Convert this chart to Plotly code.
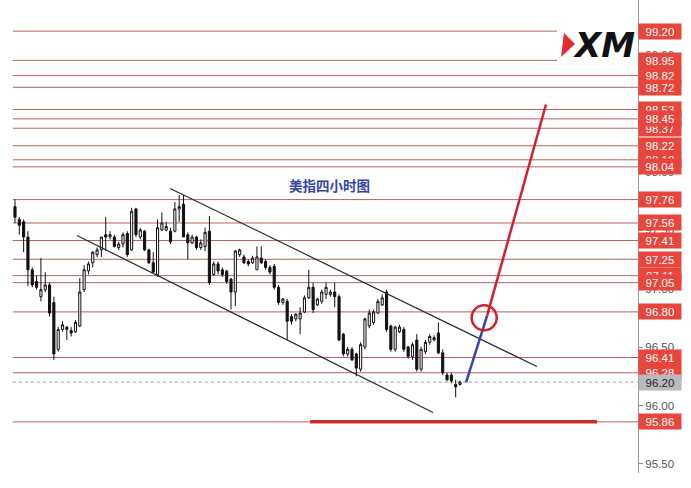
import plotly.graph_objects as go

# ---------------- data ----------------
opens = [97.70,97.59,97.57,97.44,97.16,97.06,96.93,96.99,97.03,96.88,
96.48,96.65,96.67,96.64,96.63,96.68,96.99,97.15,97.22,97.29,
97.33,97.46,97.44,97.44,97.35,97.38,97.47,97.33,97.68,97.44,
97.49,97.33,97.22,97.12,97.50,97.50,97.49,97.49,97.68,97.72,
97.46,97.39,97.44,97.35,97.36,97.49,97.12,97.21,97.16,97.15,
97.08,96.97,97.29,97.27,97.23,97.22,97.16,97.26,97.23,97.18,
97.19,97.01,96.88,96.89,96.76,96.74,96.74,96.80,96.92,97.01,
96.86,96.89,96.95,96.95,96.97,96.93,96.61,96.44,96.48,96.44,
96.31,96.50,96.68,96.71,96.79,96.86,96.97,96.68,96.48,96.63,
96.65,96.50,96.42,96.56,96.31,96.46,96.54,96.56,96.62,96.45,
96.26,96.26,96.18,96.18]
highs = [97.76,97.61,97.59,97.49,97.18,97.11,97.26,97.14,97.05,96.93,
96.67,96.72,96.68,96.67,96.73,97.09,97.20,97.23,97.32,97.35,
97.44,97.61,97.49,97.46,97.40,97.48,97.49,97.69,97.69,97.52,
97.50,97.34,97.31,97.59,97.65,97.57,97.52,97.74,97.80,97.80,
97.48,97.46,97.45,97.42,97.52,97.62,97.23,97.23,97.18,97.16,
97.09,97.33,97.34,97.29,97.25,97.28,97.36,97.36,97.25,97.20,
97.21,97.03,96.92,96.91,96.78,96.79,96.84,96.94,97.16,97.05,
96.92,96.99,97.05,96.99,97.05,96.95,96.62,96.50,96.50,96.45,
96.54,96.75,96.82,96.82,96.91,96.95,96.99,96.69,96.68,96.69,
96.67,96.51,96.54,96.61,96.50,96.56,96.61,96.60,96.71,96.48,
96.28,96.28,96.22,96.21]
lows = [97.56,97.46,97.31,97.02,97.01,96.99,96.89,96.97,96.76,96.39,
96.46,96.63,96.56,96.59,96.62,96.67,96.97,97.12,97.18,97.27,
97.27,97.32,97.42,97.35,97.33,97.35,97.27,97.32,97.44,97.42,
97.32,97.21,97.13,97.10,97.49,97.49,97.38,97.48,97.57,97.44,
97.25,97.38,97.33,97.33,97.32,97.03,97.11,97.12,97.10,97.04,
96.82,96.85,97.27,97.21,97.19,97.21,97.16,97.21,97.16,97.12,
96.99,96.86,96.86,96.56,96.69,96.72,96.61,96.79,96.91,96.79,
96.85,96.87,96.91,96.93,96.84,96.55,96.42,96.42,96.38,96.25,
96.29,96.48,96.66,96.69,96.78,96.85,96.63,96.46,96.46,96.62,
96.46,96.40,96.39,96.29,96.29,96.44,96.52,96.55,96.44,96.26,
96.21,96.19,96.07,96.17]
closes = [97.61,97.54,97.44,97.16,97.03,97.01,96.99,97.03,96.79,96.44,
96.65,96.69,96.65,96.62,96.71,96.97,97.16,97.21,97.31,97.33,
97.44,97.44,97.46,97.36,97.38,97.46,97.29,97.66,97.46,97.50,
97.33,97.22,97.14,97.52,97.56,97.53,97.40,97.68,97.70,97.44,
97.39,97.44,97.35,97.39,97.48,97.05,97.21,97.15,97.12,97.06,
96.97,97.32,97.33,97.22,97.21,97.26,97.27,97.22,97.18,97.14,
97.01,96.88,96.91,96.72,96.72,96.78,96.79,96.92,97.01,96.82,
96.91,96.97,97.01,96.97,96.93,96.56,96.44,96.48,96.39,96.32,
96.52,96.74,96.79,96.80,96.89,96.92,96.65,96.48,96.67,96.67,
96.48,96.42,96.52,96.31,96.48,96.54,96.59,96.58,96.45,96.28,
96.22,96.21,96.16,96.20]
bars = list(range(len(opens)))

# horizontal price levels (red-labelled)
levels = [99.20, 98.95, 98.82, 98.72, 98.53, 98.45, 98.37, 98.22, 98.10, 98.04,
          97.76, 97.56, 97.41, 97.25, 97.11, 97.05, 96.80, 96.41, 96.28, 95.86]
hidden_levels = [98.53, 98.37, 98.10, 97.11, 96.28]   # labels partly covered
current_price = 96.20
support_level = 95.86
support_span = [68.3, 134.7]

# axis ticks
tick_vals = [95.5, 96.0, 96.5, 97.0, 97.5, 98.0, 98.5, 99.0]
tick_text = ["95.50", "96.00", "96.50", "97.00", "97.50", "98.00", "98.50", "99.00"]

# channel and projection lines (bar index, price)
upper_x, upper_y = [35.9, 120.8], [97.855, 96.333]
lower_x, lower_y = [14.35, 96.76], [97.453, 95.94]
blue_x, blue_y = [104.4, 109.3], [96.197, 96.77]
red_x, red_y = [109.3, 122.9], [96.77, 98.573]
circle_center = (108.6, 96.75)

title_text = "美指四小时图"

# ---------------- figure ----------------
X_RANGE = [-3.47, 144.2]
Y_RANGE = [95.423, 99.466]
PLOT_W, PLOT_H = 638, 473
LINE_RED = "#b9625c"
LABEL_RED = "#e8453c"

fig = go.Figure()
fig.add_trace(go.Candlestick(
    x=bars, open=opens, high=highs, low=lows, close=closes,
    increasing=dict(line=dict(color="#111", width=1), fillcolor="white"),
    decreasing=dict(line=dict(color="#111", width=1), fillcolor="#111"),
    whiskerwidth=0, showlegend=False, hoverinfo="skip"))

for xs, ys, col, w in [(upper_x, upper_y, "#2b2b2b", 1.2), (lower_x, lower_y, "#2b2b2b", 1.2),
                       (blue_x, blue_y, "#3443b5", 2.5), (red_x, red_y, "#d3202e", 2.5)]:
    fig.add_trace(go.Scatter(x=xs, y=ys, mode="lines", line=dict(color=col, width=w),
                             showlegend=False, hoverinfo="skip"))

shapes = []
for lv in levels:
    shapes.append(dict(type="line", xref="x", yref="y", x0=-0.5, x1=X_RANGE[1], y0=lv, y1=lv,
                       line=dict(color=LINE_RED, width=1), layer="below"))
shapes.append(dict(type="line", xref="x", yref="y", x0=-0.5, x1=X_RANGE[1],
                   y0=current_price, y1=current_price,
                   line=dict(color="#9a9a9a", width=1, dash="dot"), layer="below"))
shapes.append(dict(type="line", xref="x", yref="y", x0=support_span[0], x1=support_span[1],
                   y0=support_level, y1=support_level,
                   line=dict(color="#cf2a2a", width=3.5), layer="above"))
cx, cy = circle_center
shapes.append(dict(type="circle", xref="x", yref="y",
                   x0=cx - 2.9, x1=cx + 2.9, y0=cy - 0.107, y1=cy + 0.107,
                   line=dict(color="#d3202e", width=2.5)))
# logo background + red triangle
def px(x, y):
    return x / PLOT_W, 1 - y / PLOT_H
x0, y0 = px(557, 70); x1, y1 = px(PLOT_W, 24)
shapes.append(dict(type="rect", xref="paper", yref="paper", x0=x0, x1=x1, y0=y0, y1=y1,
                   fillcolor="white", line=dict(width=0), layer="above"))
a = px(564, 33); b = px(575, 44); c = px(561, 57)
shapes.append(dict(type="path", xref="paper", yref="paper",
                   path=f"M {a[0]},{a[1]} L {b[0]},{b[1]} L {c[0]},{c[1]} Z",
                   fillcolor="#e32b2b", line=dict(width=0), layer="above"))

annotations = []
ordered = hidden_levels + [lv for lv in levels if lv not in hidden_levels]
for lv in ordered:
    annotations.append(dict(xref="paper", yref="y", x=1, y=lv, xanchor="left", yanchor="middle",
                            text=f"{lv:.2f}", showarrow=False, width=42, height=15,
                            bgcolor=LABEL_RED, borderpad=0,
                            font=dict(family="Liberation Sans, Arial", size=11.5, color="white")))
annotations.append(dict(xref="paper", yref="y", x=1, y=current_price, xanchor="left",
                        yanchor="middle", text=f"{current_price:.2f}", showarrow=False,
                        width=42, height=15, bgcolor="#b9b9c0", borderpad=0,
                        font=dict(family="Liberation Sans, Arial", size=11.5, color="#222")))
annotations.append(dict(xref="x", yref="y", x=72.9, y=97.885, text=f"<b>{title_text}</b>",
                        showarrow=False,
                        font=dict(family="Noto Sans CJK SC", size=13.5, color="#3346a6")))
lx, ly = px(604, 45)
annotations.append(dict(xref="paper", yref="paper", x=lx, y=ly, text="<b><i>XM</i></b>",
                        showarrow=False, xanchor="center", yanchor="middle",
                        font=dict(family="DejaVu Sans", size=34, color="#111")))

fig.update_layout(
    width=691, height=488,
    margin=dict(l=0, r=53, t=0, b=15),
    paper_bgcolor="white", plot_bgcolor="white",
    shapes=shapes, annotations=annotations,
    xaxis=dict(range=X_RANGE, visible=False, rangeslider=dict(visible=False)),
    yaxis=dict(range=Y_RANGE, side="right", tickvals=tick_vals, ticktext=tick_text,
               ticks="outside", ticklen=4, tickcolor="#888", showline=True,
               linecolor="#999", linewidth=1, showgrid=False, zeroline=False,
               tickfont=dict(family="Liberation Sans, Arial", size=11.5, color="#555")),
)

fig.write_html("out.html", config={"displayModeBar": False},
               post_script="document.body.style.margin='0';")
